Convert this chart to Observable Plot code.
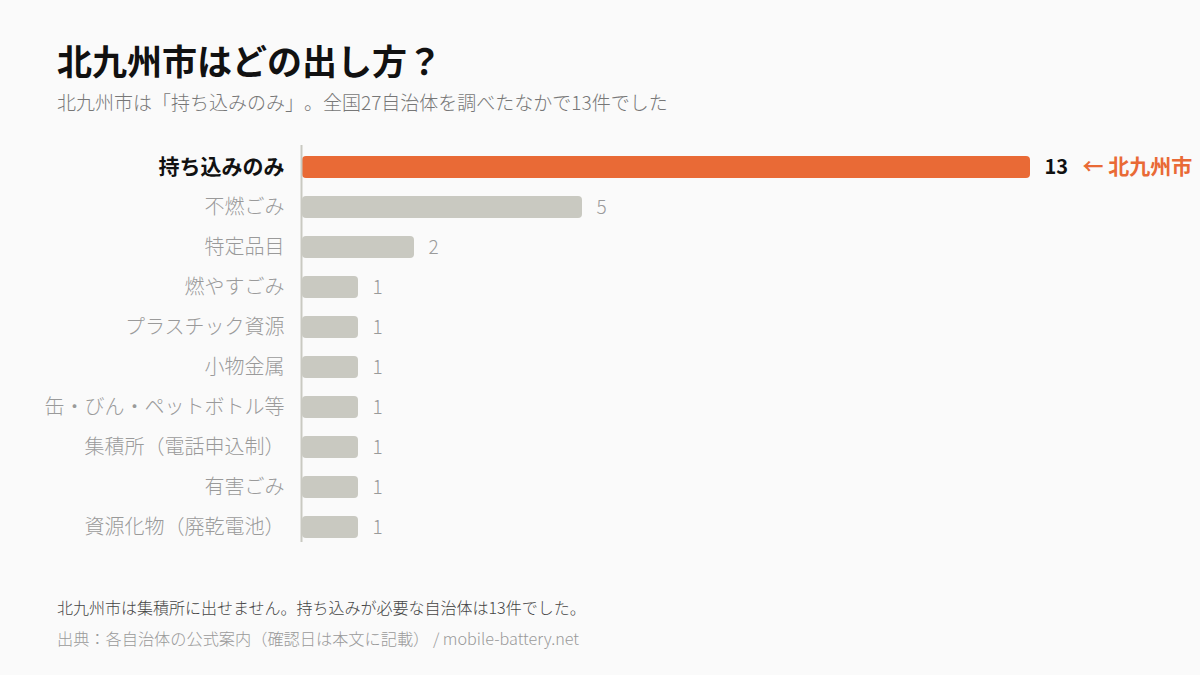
<!DOCTYPE html>
<html><head><meta charset="utf-8">
<script src="https://cdn.jsdelivr.net/npm/d3@7"></script>
<script src="https://cdn.jsdelivr.net/npm/@observablehq/plot@0.6"></script>
<style>
html,body{margin:0;padding:0;background:#fafafa;width:1200px;height:675px;overflow:hidden;font-family:"Noto Sans CJK JP","Noto Sans",sans-serif;text-spacing-trim:space-all;}
div{line-height:1;white-space:nowrap;}
#title{position:absolute;left:57px;top:42px;font-size:35px;font-weight:700;color:#111;}
#sub{position:absolute;left:57px;top:92px;font-size:19px;color:#777;font-weight:300;}
#chart{position:absolute;left:0;top:130px;}
#chart text{text-spacing-trim:space-all;}
#note{position:absolute;left:57px;top:599px;font-size:16px;color:#444;font-weight:300;}
#src{position:absolute;left:57px;top:630px;font-size:16.2px;color:#999;font-weight:300;}
</style></head>
<body>
<div id="title">北九州市はどの出し方？</div>
<div id="sub">北九州市は「持ち込みのみ」。全国27自治体を調べたなかで13件でした</div>
<div id="chart"></div>
<div id="note">北九州市は集積所に出せません。持ち込みが必要な自治体は13件でした。</div>
<div id="src">出典：各自治体の公式案内（確認日は本文に記載） / mobile-battery.net</div>
<script>
const categories = ["持ち込みのみ","不燃ごみ","特定品目","燃やすごみ","プラスチック資源","小物金属","缶・びん・ペットボトル等","集積所（電話申込制）","有害ごみ","資源化物（廃乾電池）"];
const counts = [13,5,2,1,1,1,1,1,1,1];
const highlight = "持ち込みのみ";
const highlightNote = "← 北九州市";

const data = categories.map((c,i)=>({cat:c, n:counts[i], hi:c===highlight}));
const hiData = data.filter(d=>d.hi);
const loData = data.filter(d=>!d.hi);
const font = '"Noto Sans CJK JP","Noto Sans",sans-serif';

const chart = Plot.plot({
  width:1200, height:430,
  marginLeft:302, marginRight:170, marginTop:17, marginBottom:13,
  style:{background:"transparent", fontFamily:font},
  x:{domain:[0,13], axis:null},
  y:{domain:categories, axis:null, paddingInner:0.45, paddingOuter:0.225},
  marks:[
    Plot.barX(data,{y:"cat", x:"n", fill:d=>d.hi?"#E96A36":"#C9C9C1", rx:4}),
    Plot.ruleX([0],{stroke:"#C9C9C1", strokeWidth:2, dx:-1, insetTop:-2, insetBottom:5}),
    Plot.text(loData,{y:"cat", x:0, text:"cat", textAnchor:"end", dx:-18, fontSize:20, fill:"#9a9a9a", fontWeight:300}),
    Plot.text(hiData,{y:"cat", x:0, text:"cat", textAnchor:"end", dx:-18, fontSize:21, fill:"#111", fontWeight:700}),
    Plot.text(loData,{y:"cat", x:"n", text:d=>String(d.n), textAnchor:"start", dx:14, fontSize:19, fill:"#9a9a9a", fontWeight:300}),
    Plot.text(hiData,{y:"cat", x:"n", text:d=>String(d.n), textAnchor:"start", dx:14, fontSize:20, fill:"#111", fontWeight:700}),
    Plot.text(hiData,{y:"cat", x:"n", text:()=>highlightNote, textAnchor:"start", dx:52, fontSize:21, fill:"#E96A36", fontWeight:700})
  ]
});
document.getElementById("chart").appendChild(chart);
</script>
</body></html>
